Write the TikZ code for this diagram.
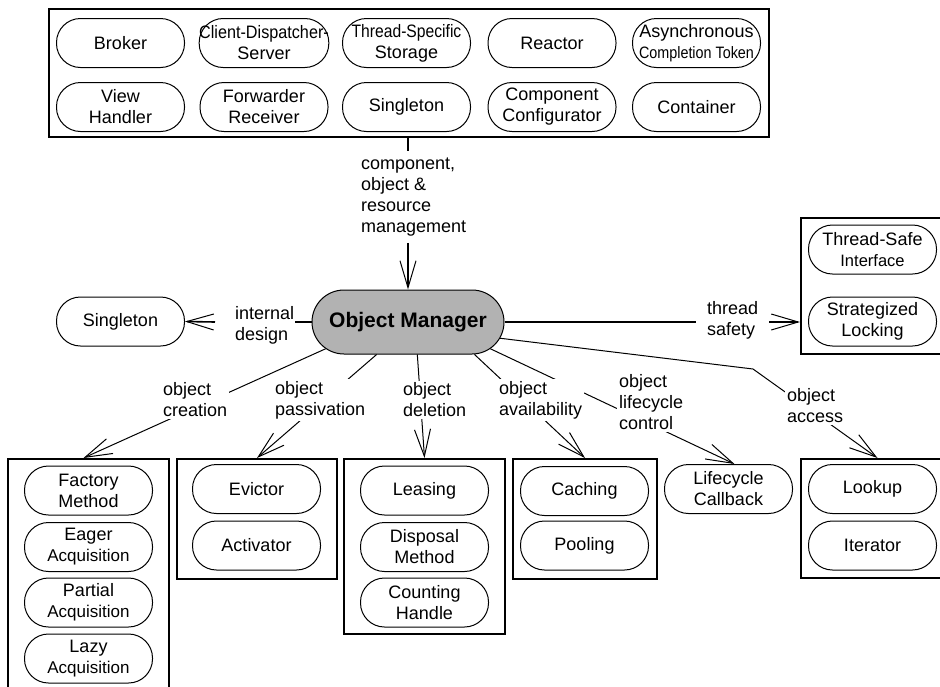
\documentclass[tikz,border=0pt]{standalone}
\usepackage{graphicx}
\usepackage{fontspec}
\setmainfont{Liberation Sans}
\usetikzlibrary{arrows.meta,shapes.misc,calc}
\newcommand\dgft{\fontsize{18}{21}\selectfont}
\newcommand\dgsm{\fontsize{16.5}{21}\selectfont}
\newcommand\dgacq{\fontsize{17}{21}\selectfont}
\newcommand\dgom{\fontsize{21}{25}\selectfont\bfseries}
\begin{document}
\begin{tikzpicture}[x=1pt,y=-1pt,
  pill/.style={draw, line width=1pt, rectangle, rounded corners=24pt, minimum width=128pt, minimum height=49pt, inner sep=0pt, align=center, font=\dgft},
  grp/.style={draw, line width=2pt, rectangle, inner sep=0pt},
  lbl/.style={fill=white, inner sep=2pt, align=left, font=\dgft, anchor=west},
  con/.style={line width=1pt},
  thick con/.style={line width=1.6pt},
  arr/.style={-{Straight Barb[length=27pt,width=16pt,line width=1pt]}},
]
\useasboundingbox (0,0) rectangle (940,686);
\clip (0,0) rectangle (940,686);
\fill[white] (0,0) rectangle (940,686);

% top group
\node[grp, minimum width=720pt, minimum height=128pt] (top) at (409,73) {};
\node[pill] (p1) at (120.5,43) {Broker};
\node[pill] (p2) at (264,43) {\scalebox{0.9}[1]{Client-Dispatcher-}\\Server};
\node[pill] (p3) at (406.5,43) {\scalebox{0.87}[1]{Thread-Specific}\\Storage};
\node[pill] (p4) at (552,43) {Reactor};
\node[pill] (p5) at (696.5,43) {Asynchronous\\{\dgsm\scalebox{0.87}[1]{Completion Token}}};
\node[pill] (p6) at (120.5,107) {View\\Handler};
\node[pill] (p7) at (264,107) {Forwarder\\Receiver};
\node[pill] (p8) at (406.5,107) {Singleton};
\node[pill] (p9) at (552,107) {Component\\Configurator};
\node[pill] (p10) at (696.5,107) {Container};

% object manager
\node[draw, line width=1pt, fill=gray!60, rounded rectangle, minimum width=192pt, minimum height=64pt, inner sep=0pt,
      label={[font=\dgom]center:Object Manager}] (om) at (408,322) {};

% singleton
\node[pill] (sing) at (120.5,321.5) {Singleton};

% thread safety group
\node[grp, minimum width=143pt, minimum height=136pt] (tsbox) at (872.5,286) {};
\node[pill] (ts1) at (872.5,249.5) {Thread-Safe\\{\dgsm Interface}};
\node[pill] (ts2) at (872.5,321.5) {Strategized\\Locking};

% bottom groups
\node[grp, minimum width=161pt, minimum height=240pt, anchor=north] (b1) at (88.5,458) {};
\node[pill] (c1) at (88.5,490.5) {Factory\\Method};
\node[pill] (c2) at (88.5,547) {Eager\\{\dgacq Acquisition}};
\node[pill] (c3) at (88.5,602.5) {Partial\\{\dgacq Acquisition}};
\node[pill] (c4) at (88.5,658.5) {Lazy\\{\dgacq Acquisition}};

\node[grp, minimum width=160pt, minimum height=120pt, anchor=north] (b2) at (257,458) {};
\node[pill] (d1) at (256.5,489) {Evictor};
\node[pill] (d2) at (256.5,545.5) {Activator};

\node[grp, minimum width=161pt, minimum height=175pt, anchor=north] (b3) at (424.5,458) {};
\node[pill] (e1) at (424.5,490.5) {Leasing};
\node[pill] (e2) at (424.5,547) {Disposal\\Method};
\node[pill] (e3) at (424.5,602.5) {Counting\\Handle};

\node[grp, minimum width=144pt, minimum height=120pt, anchor=north] (b4) at (585,458) {};
\node[pill] (f1) at (584.5,491) {Caching};
\node[pill] (f2) at (584.5,545.5) {Pooling};

\node[pill] (lc) at (728.5,489) {Lifecycle\\Callback};

\node[grp, minimum width=143pt, minimum height=119pt, anchor=north] (b5) at (872.5,458) {};
\node[pill] (g1) at (872.5,489) {Lookup};
\node[pill] (g2) at (872.5,545.5) {Iterator};

% labels on straight connectors
\node[lbl, fill=none, inner xsep=1pt, inner ysep=6.5pt] (lcomp) at (360,197) {component,\\object \&\\resource\\management};
\node[lbl, fill=none, inner xsep=1pt] (lint) at (234,325.5) {internal\\design};
\node[lbl, fill=none, inner xsep=1pt] (lts) at (706,320) {thread\\safety};

% straight connectors
\draw[thick con] (om.north |- top.south) -- (om.north |- lcomp.north);
\draw[thick con, arr] (om.north |- lcomp.south) -- (om.north);
\draw[thick con] (om.west) -- (lint.east |- om.west);
\draw[thick con, arr] ($(lint.west |- om.west)+(-19,0)$) -- (sing.east);
\draw[thick con] (om.east) -- ($(lts.west |- om.east)+(-10,0)$);
\draw[thick con, arr] ($(lts.east |- om.east)+(10,0)$) -- (tsbox.west |- om.east);

% diagonal connectors
\coordinate (acb) at (753,369);
\draw[con, arr] (om.198) -- ($(b1.north)+(-5,0)$);
\draw[con, arr] (om.226) -- (b2.north);
\draw[con, arr] (om.286) -- (b3.north);
\draw[con, arr] (om.334) -- (b4.north);
\draw[con, arr] (om.342.6) -- ($(lc.north)+(6,0)$);
\draw[con, arr] (om.350) -- (acb) -- ($(b5.north)+(5,0)$);

% labels on diagonal connectors
\node[lbl] (lcre) at (161,400) {object\\creation};
\node[lbl] (lpas) at (273,400) {object\\passivation};
\node[lbl] (ldel) at (401,400) {object\\deletion};
\node[lbl] (lava) at (497,400) {object\\availability};
\node[lbl] (llc) at (617,402.5) {object\\lifecycle\\control};
\node[lbl] (lacc) at (785,406) {object\\access};
\end{tikzpicture}
\end{document}
